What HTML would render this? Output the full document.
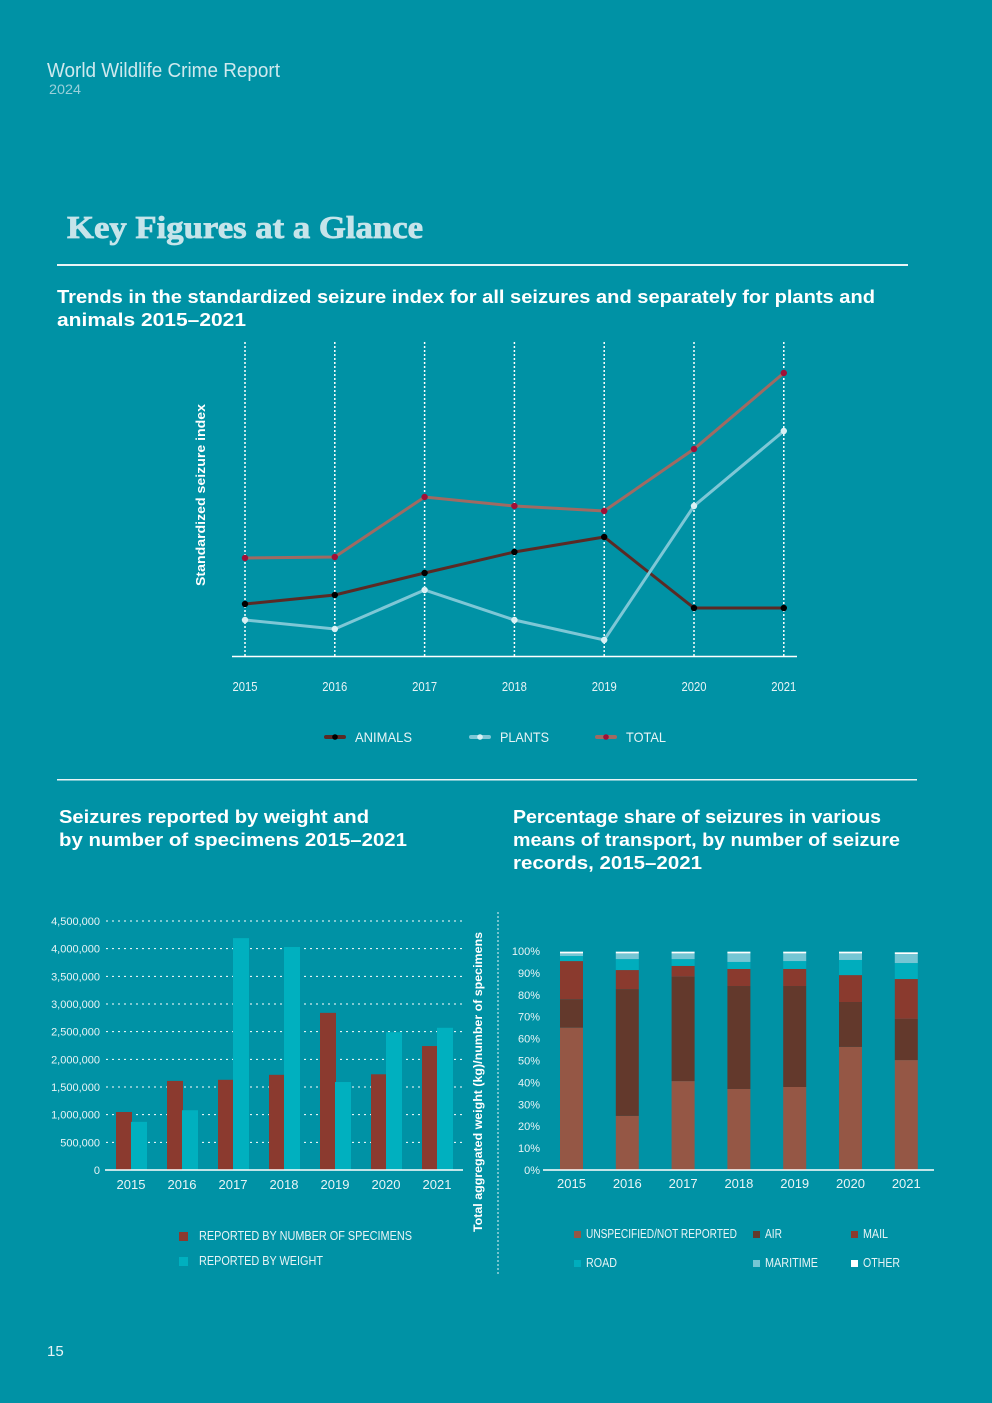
<!DOCTYPE html>
<html><head><meta charset="utf-8"><style>
html,body{margin:0;padding:0;background:#0092a5;}
svg{display:block;font-family:"Liberation Sans",sans-serif;}
</style></head><body>
<svg id="page" width="992" height="1403" viewBox="0 0 992 1403">
<rect width="992" height="1403" fill="#0092a5"/>
<text x="47" y="77" font-size="20" fill="#cfe9ee" textLength="233" lengthAdjust="spacingAndGlyphs">World Wildlife Crime Report</text>
<text x="49" y="94" font-size="14" fill="#9ad0da" textLength="32" lengthAdjust="spacingAndGlyphs">2024</text>
<text x="67" y="238" font-family="Liberation Serif,serif" font-weight="bold" font-size="32" fill="#c6e4ea" stroke="#c6e4ea" stroke-width="0.8" textLength="356" lengthAdjust="spacingAndGlyphs">Key Figures at a Glance</text>
<rect x="57" y="264" width="851" height="2" fill="#e8f4f6"/>
<text font-weight="bold" font-size="18" fill="#ffffff"><tspan x="57" y="303" textLength="818" lengthAdjust="spacingAndGlyphs">Trends in the standardized seizure index for all seizures and separately for plants and</tspan><tspan x="57" y="326" textLength="189" lengthAdjust="spacingAndGlyphs">animals 2015–2021</tspan></text>
<g id="line"></g>
<rect x="57" y="779" width="860" height="1.5" fill="#e8f4f6"/>
<text font-weight="bold" font-size="18" fill="#ffffff"><tspan x="59" y="823" textLength="310" lengthAdjust="spacingAndGlyphs">Seizures reported by weight and</tspan><tspan x="59" y="846" textLength="348" lengthAdjust="spacingAndGlyphs">by number of specimens 2015–2021</tspan></text>
<text font-weight="bold" font-size="18" fill="#ffffff"><tspan x="513" y="823" textLength="368" lengthAdjust="spacingAndGlyphs">Percentage share of seizures in various</tspan><tspan x="513" y="846" textLength="387" lengthAdjust="spacingAndGlyphs">means of transport, by number of seizure</tspan><tspan x="513" y="869" textLength="189" lengthAdjust="spacingAndGlyphs">records, 2015–2021</tspan></text>
<g id="bar"></g>
<line x1="498" y1="912" x2="498" y2="1275" stroke="#e8f4f6" stroke-dasharray="2,2"/>
<g id="stack"></g>
<text x="47" y="1356" font-size="15" fill="#e8f4f6">15</text>
</svg>
<script>
const NS='http://www.w3.org/2000/svg';
function mk(p,t,a,txt){const e=document.createElementNS(NS,t);for(const k in a)e.setAttribute(k,a[k]);if(txt!==undefined)e.textContent=txt;p.appendChild(e);return e;}

// ---- line chart data ----
const lineYears=['2015','2016','2017','2018','2019','2020','2021'];
const animals=[52,61,83,104,119,48,48];
const plants=[36,27,66,36,16,150,225];
const total=[98,99,159,150,145,207,283];

// ---- bar chart data ----
const barYears=['2015','2016','2017','2018','2019','2020','2021'];
const bySpecimens=[1048000,1610000,1630000,1720000,2840000,1730000,2240000];
const byWeight=[870000,1080000,4190000,4030000,1590000,2490000,2570000];
const barTicks=[0,500000,1000000,1500000,2000000,2500000,3000000,3500000,4000000,4500000];

// ---- stacked chart data (percent) ----
const stackYears=['2015','2016','2017','2018','2019','2020','2021'];
const unspecified=[65,24.7,40.6,37,37.9,56.2,50.2];
const air=[13,57.9,47.7,47,46.1,20.5,18.8];
const mail=[17.4,8.7,4.9,7.8,7.8,12.3,18.2];
const road=[2.3,5,3.1,3.2,3.6,6.9,7.3];
const maritime=[1.2,2.6,2.6,3.9,3.5,3,4.1];
const other=[0.8,0.8,0.8,0.8,0.8,0.8,0.8];
const pctTicks=[0,10,20,30,40,50,60,70,80,90,100];

function legText(gg,x,y,size,txt,len){
  mk(gg,'text',{x:x,y:y,'font-size':size,fill:'#e8f4f6',textLength:len,lengthAdjust:'spacingAndGlyphs'},txt);
}

// line chart
(function(){
const g=document.getElementById('line');
const x=i=>245+i*89.8, y=v=>656-v*1.0;
lineYears.forEach((yr,i)=>{
  const l=mk(g,'line',{x1:x(i),y1:342,x2:x(i),y2:656,stroke:'#ffffff','stroke-width':1.5,'stroke-dasharray':'2,2'});
  
  
  const t=mk(g,'text',{x:x(i),y:691,'font-size':13,fill:'#e8f4f6','text-anchor':'middle',textLength:25,lengthAdjust:'spacingAndGlyphs'},yr);
  
  
});
const ax=mk(g,'line',{x1:232,y1:656.5,x2:797,y2:656.5,stroke:'#ffffff','stroke-width':1.5});


const yt=mk(g,'text',{transform:'translate(205,495) rotate(-90)','font-weight':'bold','font-size':13,fill:'#ffffff','text-anchor':'middle',textLength:182,lengthAdjust:'spacingAndGlyphs'},'Standardized seizure index');


const series=[[animals,'#5a2a25','#000000','animals'],[plants,'#7ec7d6','#d8f0f4','plants'],[total,'#a06a62','#a01038','total']];
series.forEach(([d,lc,mc,n])=>{
  const p=mk(g,'polyline',{points:d.map((v,i)=>x(i)+','+y(v)).join(' '),fill:'none',stroke:lc,'stroke-width':3});
  
  
  d.forEach((v,i)=>{const c=mk(g,'circle',{cx:x(i),cy:y(v),r:3.2,fill:mc});
    
    });
});
const leg=[[326,'ANIMALS','#5a2a25','#000000',57],[471,'PLANTS','#7ec7d6','#d8f0f4',49],[597,'TOTAL','#a06a62','#a01038',40]];
leg.forEach(([lx,txt,lc,mc,len])=>{
  const gg=mk(g,'g',{});
  
  
  mk(gg,'line',{x1:lx,y1:737,x2:lx+18,y2:737,stroke:lc,'stroke-width':4,'stroke-linecap':'round'});
  mk(gg,'circle',{cx:lx+9,cy:737,r:2.8,fill:mc});
  legText(gg,lx+29,742,14,txt,len);
});
})();

// bar chart
(function(){
const g=document.getElementById('bar');
const y=v=>1170-v/4500000*249;
const x0=108, step=51;
barTicks.forEach(t=>{
  if(t>0){const l=mk(g,'line',{x1:106,y1:y(t),x2:462,y2:y(t),stroke:'#ffffff','stroke-dasharray':'2,4'});
  
  }
  const tx=mk(g,'text',{x:100,y:y(t)+4,'font-size':11,fill:'#e8f4f6','text-anchor':'end'},t.toLocaleString('en-US'));
  
  
});
barYears.forEach((yr,i)=>{
  const bx=x0+8+i*step;
  const r1=mk(g,'rect',{x:bx,y:y(bySpecimens[i]),width:16,height:1170-y(bySpecimens[i]),fill:'#8b3a2f'});
  
  
  const r2=mk(g,'rect',{x:bx+15,y:y(byWeight[i]),width:16,height:1170-y(byWeight[i]),fill:'#00b0bf'});
  
  
  const t=mk(g,'text',{x:bx+15,y:1189,'font-size':13,fill:'#e8f4f6','text-anchor':'middle'},yr);
  
  
});
const ax=mk(g,'line',{x1:105,y1:1170,x2:463,y2:1170,stroke:'#ffffff','stroke-width':1.5});


const yt=mk(g,'text',{transform:'translate(482,1082) rotate(-90)','font-weight':'bold','font-size':12,fill:'#ffffff','text-anchor':'middle',textLength:300,lengthAdjust:'spacingAndGlyphs'},'Total aggregated weight (kg)/number of specimens');


[[179,1236,'#8b3a2f','REPORTED BY NUMBER OF SPECIMENS',213],[179,1261,'#00b0bf','REPORTED BY WEIGHT',124]].forEach(([lx,ly,c,txt,len])=>{
  const gg=mk(g,'g',{});
  
  
  mk(gg,'rect',{x:lx,y:ly-4,width:9,height:9,fill:c});
  legText(gg,lx+20,ly+4,13,txt,len);
});
})();

// stacked chart
(function(){
const g=document.getElementById('stack');
const y=v=>1170-v*2.19;
pctTicks.forEach(t=>{
  const tx=mk(g,'text',{x:540,y:y(t)+4,'font-size':11,fill:'#e8f4f6','text-anchor':'end'},t+'%');
  
  
});
const segs=[[unspecified,'#955745','unspecified'],[air,'#63392c','air'],[mail,'#8a3a2e','mail'],[road,'#00adbd','road'],[maritime,'#75c6d4','maritime'],[other,'#ffffff','other']];
stackYears.forEach((yr,i)=>{
  const bx=560+i*55.8;
  let cum=0;
  segs.forEach(([d,c,n])=>{
    const v=d[i];
    const r=mk(g,'rect',{x:bx,y:y(cum+v),width:23,height:v*2.19,fill:c});
    
    
    cum+=v;
  });
  const t=mk(g,'text',{x:bx+11.5,y:1188,'font-size':13,fill:'#e8f4f6','text-anchor':'middle'},yr);
  
  
});
const ax=mk(g,'line',{x1:543,y1:1170,x2:934,y2:1170,stroke:'#ffffff','stroke-width':1.5});


const leg=[[574,1234,'#955745','UNSPECIFIED/NOT REPORTED',151],[753,1234,'#63392c','AIR',17],[851,1234,'#8a3a2e','MAIL',25],[574,1263,'#00adbd','ROAD',31],[753,1263,'#75c6d4','MARITIME',53],[851,1263,'#ffffff','OTHER',37]];
leg.forEach(([lx,ly,c,txt,len])=>{
  const gg=mk(g,'g',{});
  
  
  mk(gg,'rect',{x:lx,y:ly-3,width:7,height:7,fill:c});
  legText(gg,lx+12,ly+4,13,txt,len);
});
})();
</script>
</body></html>
